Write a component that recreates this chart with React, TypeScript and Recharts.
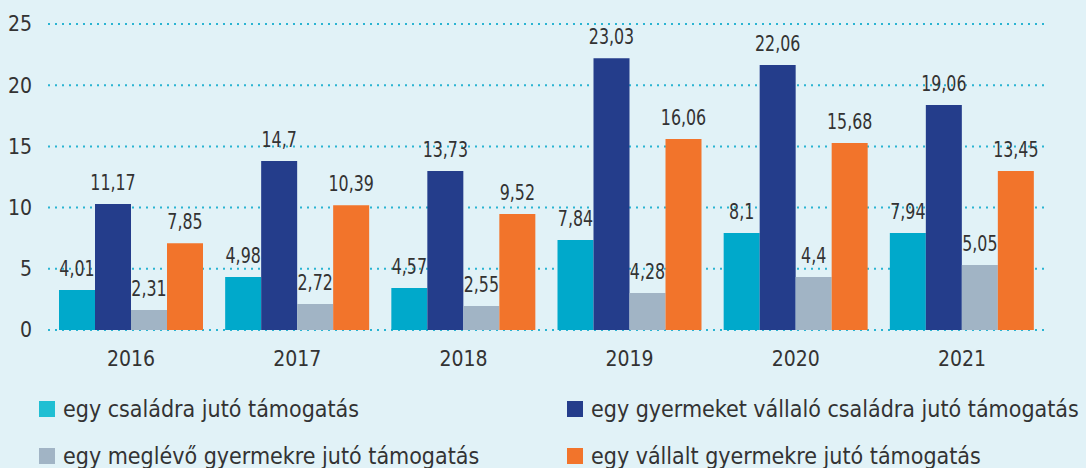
import { Bar, BarChart, CartesianGrid, LabelList, XAxis, YAxis } from 'recharts';

const years = ['2016', '2017', '2018', '2019', '2020', '2021'];

// bar heights as drawn in the picture
const perFamily = [3.27, 4.33, 3.43, 7.35, 7.92, 7.92];
const perFamilyWithChild = [10.29, 13.8, 13.0, 22.2, 21.65, 18.38];
const perExistingChild = [1.63, 2.12, 1.96, 3.02, 4.33, 5.31];
const perNewChild = [7.08, 10.2, 9.48, 15.6, 15.28, 13.0];

// printed data labels
const perFamilyLabels = ['4,01', '4,98', '4,57', '7,84', '8,1', '7,94'];
const perFamilyWithChildLabels = ['11,17', '14,7', '13,73', '23,03', '22,06', '19,06'];
const perExistingChildLabels = ['2,31', '2,72', '2,55', '4,28', '4,4', '5,05'];
const perNewChildLabels = ['7,85', '10,39', '9,52', '16,06', '15,68', '13,45'];

const yTicks = [0, 5, 10, 15, 20, 25];

const SERIES = [
  { key: 'perFamily', name: 'egy családra jutó támogatás', color: '#00a9cb', labels: perFamilyLabels },
  { key: 'perFamilyWithChild', name: 'egy gyermeket vállaló családra jutó támogatás', color: '#243d8b', labels: perFamilyWithChildLabels },
  { key: 'perExistingChild', name: 'egy meglévő gyermekre jutó támogatás', color: '#a1b4c5', labels: perExistingChildLabels },
  { key: 'perNewChild', name: 'egy vállalt gyermekre jutó támogatás', color: '#f2742b', labels: perNewChildLabels },
];

const LEGEND_COLORS = ['#20bfd3', '#243d8b', '#a1b4c5', '#f2742b'];

const data = years.map((year, i) => ({
  year,
  perFamily: perFamily[i],
  perFamilyWithChild: perFamilyWithChild[i],
  perExistingChild: perExistingChild[i],
  perNewChild: perNewChild[i],
}));

const FONT = '"DejaVu Sans Condensed", "DejaVu Sans", sans-serif';

export default function App() {
  return (
    <div
      style={{
        position: 'absolute',
        left: 0,
        top: 0,
        width: 1086,
        height: 468,
        background: '#e1f2f7',
        fontFamily: FONT,
        color: '#333333',
      }}
    >
      <BarChart
        width={1086}
        height={380}
        data={data}
        margin={{ top: 24, right: 41, left: 0, bottom: 0 }}
        barCategoryGap={11}
        barGap={0}
      >
        <CartesianGrid vertical={false} stroke="#2ab4d2" strokeWidth={2} strokeDasharray="2 5" />
        <XAxis
          dataKey="year"
          axisLine={false}
          tickLine={false}
          tickSize={0}
          tickMargin={21}
          height={50}
          tick={{ fontSize: 21, fill: '#333333', fontFamily: FONT }}
        />
        <YAxis
          domain={[0, 25]}
          ticks={yTicks}
          axisLine={false}
          tickLine={false}
          tickSize={0}
          tickMargin={16}
          width={48}
          tick={{ fontSize: 21, fill: '#333333', fontFamily: FONT }}
        />
        {SERIES.map((s) => (
          <Bar key={s.key} dataKey={s.key} name={s.name} fill={s.color} isAnimationActive={false}>
            <LabelList
              dataKey={s.key}
              position="top"
              content={(props: any) => {
                const { x, y, width, index } = props;
                const cx = Number(x) + Number(width) / 2;
                return (
                  <text
                    transform={`translate(${cx},${Number(y) - 14}) scale(0.86,1)`}
                    textAnchor="middle"
                    fontSize={20.5}
                    fill="#333333"
                    fontFamily={FONT}
                  >
                    {s.labels[index]}
                  </text>
                );
              }}
            />
          </Bar>
        ))}
      </BarChart>
      {SERIES.map((s, i) => (
        <div
          key={s.key}
          style={{
            position: 'absolute',
            left: i % 2 === 0 ? 39 : 567,
            top: i < 2 ? 397 : 444,
            height: 24,
            lineHeight: '24px',
            display: 'flex',
            alignItems: 'center',
            fontSize: 23,
            whiteSpace: 'nowrap',
          }}
        >
          <span
            style={{
              display: 'inline-block',
              width: 16,
              height: 16,
              background: LEGEND_COLORS[i],
              marginRight: 8,
            }}
          />
          {s.name}
        </div>
      ))}
    </div>
  );
}
